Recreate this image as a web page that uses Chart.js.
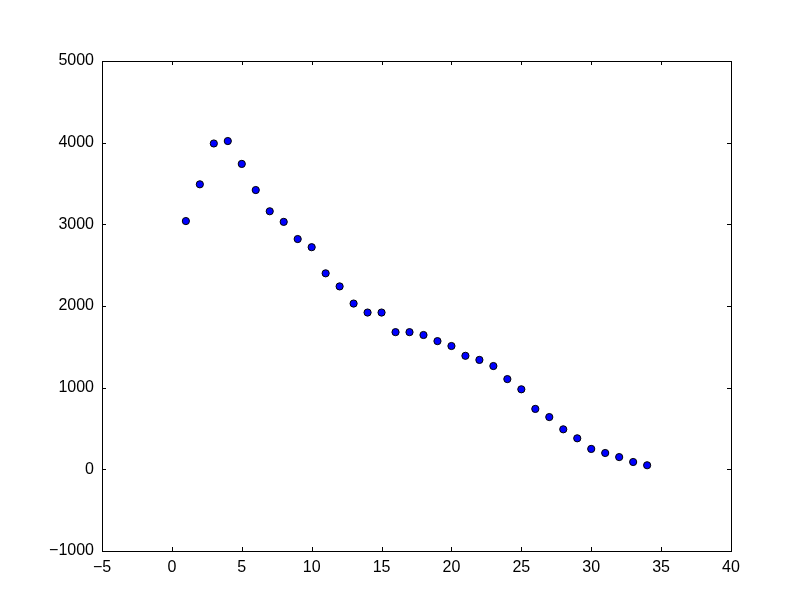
<!DOCTYPE html>
<html>
<head>
<meta charset="utf-8">
<script src="https://cdn.jsdelivr.net/npm/chart.js@4/dist/chart.umd.min.js"></script>
<style>
  html, body { margin: 0; padding: 0; background: #fff; }
  #wrap { width: 812px; height: 612px; }
</style>
</head>
<body>
<div id="wrap"><canvas id="scatterChart" width="812" height="612"></canvas></div>
<script>
// data
const xValues = [1, 2, 3, 4, 5, 6, 7, 8, 9, 10, 11, 12, 13, 14, 15, 16, 17,
                 18, 19, 20, 21, 22, 23, 24, 25, 26, 27, 28, 29, 30, 31, 32, 33, 34];
const yValues = [3040, 3490, 3990, 4020, 3740, 3420, 3160, 3030, 2820, 2720, 2400, 2240, 2030, 1920, 1920, 1680, 1680,
                 1645, 1570, 1510, 1390, 1340, 1265, 1105, 980, 740, 640, 490, 380, 250, 200, 150, 90, 50];
const xTicks = [-5, 0, 5, 10, 15, 20, 25, 30, 35, 40];
const yTicks = [-1000, 0, 1000, 2000, 3000, 4000, 5000];

const points = xValues.map((x, i) => ({ x: x, y: yValues[i] }));

// frame + inward tick marks on all four sides (matplotlib classic look)
const frameTicks = {
    id: "frameTicks",
    afterDraw(chart) {
        const ctx = chart.ctx;
        const a = chart.chartArea;
        const xs = chart.scales.x;
        const ys = chart.scales.y;
        const len = 4;
        ctx.save();
        ctx.strokeStyle = "#000";
        ctx.lineWidth = 1;
        ctx.beginPath();
        xTicks.forEach((t) => {
            const px = Math.round(xs.getPixelForValue(t)) + 0.5;
            ctx.moveTo(px, a.bottom); ctx.lineTo(px, a.bottom - len);
            ctx.moveTo(px, a.top); ctx.lineTo(px, a.top + len);
        });
        yTicks.forEach((t) => {
            const py = Math.round(ys.getPixelForValue(t)) + 0.5;
            ctx.moveTo(a.left, py); ctx.lineTo(a.left + len, py);
            ctx.moveTo(a.right, py); ctx.lineTo(a.right - len, py);
        });
        ctx.stroke();
        ctx.strokeRect(Math.round(a.left) + 0.5, Math.round(a.top) + 0.5,
                       Math.round(a.right - a.left), Math.round(a.bottom - a.top));
        ctx.restore();
    }
};

const minus = (v) => String(v).replace("-", "\u2212");

new Chart(document.getElementById("scatterChart").getContext("2d"), {
    type: "scatter",
    data: {
        datasets: [{
            data: points,
            backgroundColor: "#0000ff",
            borderColor: "#000000",
            borderWidth: 1,
            pointRadius: 3.6,
            pointHoverRadius: 3.6
        }]
    },
    options: {
        responsive: false,
        animation: false,
        layout: { padding: { left: 0, right: 81, top: 61, bottom: 0 } },
        plugins: {
            legend: { display: false },
            tooltip: { enabled: false }
        },
        scales: {
            x: {
                type: "linear",
                min: -5,
                max: 40,
                afterFit: (scale) => { scale.height = 61; },
                afterBuildTicks: (scale) => { scale.ticks = xTicks.map((v) => ({ value: v })); },
                grid: { display: false, drawTicks: false },
                border: { display: false },
                ticks: {
                    color: "#000",
                    padding: 7,
                    maxRotation: 0,
                    font: { family: "'Liberation Sans', Arial, sans-serif", size: 16 },
                    callback: minus
                }
            },
            y: {
                type: "linear",
                min: -1000,
                max: 5000,
                afterFit: (scale) => { scale.width = 102; },
                afterBuildTicks: (scale) => { scale.ticks = yTicks.map((v) => ({ value: v })); },
                grid: { display: false, drawTicks: false },
                border: { display: false },
                ticks: {
                    color: "#000",
                    padding: 8,
                    font: { family: "'Liberation Sans', Arial, sans-serif", size: 16 },
                    callback: minus
                }
            }
        }
    },
    plugins: [frameTicks]
});
</script>
</body>
</html>
